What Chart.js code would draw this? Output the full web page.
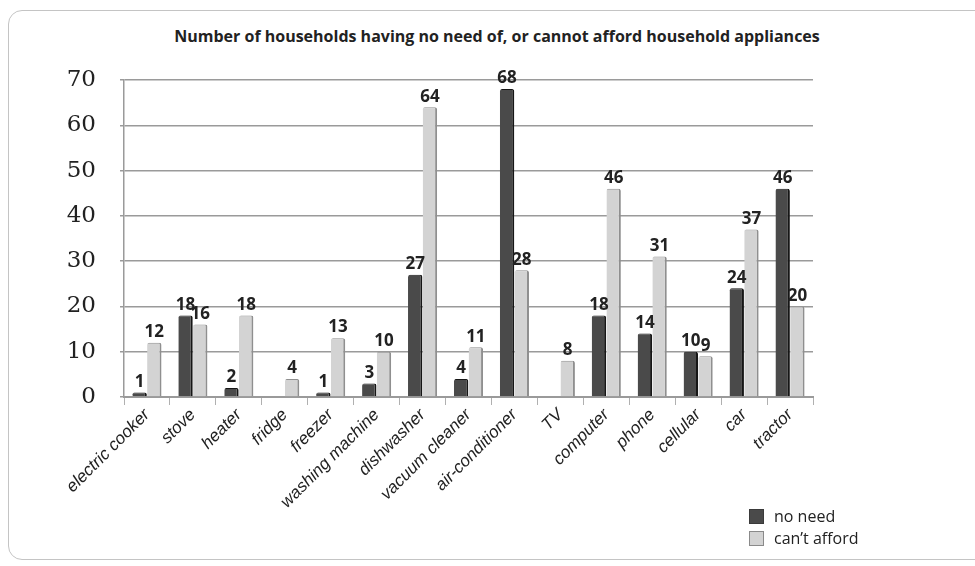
<!DOCTYPE html>
<html>
<head>
<meta charset="utf-8">
<script src="https://cdn.jsdelivr.net/npm/chart.js@4.4.1/dist/chart.umd.min.js"></script>
<style>
  html, body { margin: 0; padding: 0; background: #fff; overflow: hidden; }
  body { width: 975px; height: 566px; position: relative; }
  .card {
    position: absolute; left: 8px; top: 10px; width: 1000px; height: 550px;
    border: 1px solid #c4c4c4; border-radius: 14px; box-sizing: border-box;
  }
  #title {
    position: absolute; left: 0; width: 994px; top: 25px; text-align: center;
    font: bold 16px "Open Sans", sans-serif; color: #222;
  }
  #chart { position: absolute; left: 0; top: 0; }
  #legend {
    position: absolute; left: 749px; top: 505px;
    font: 16px "Open Sans", sans-serif; color: #222;
  }
  #legend div { height: 22px; display: flex; align-items: center; }
  #legend span.box { width: 15px; height: 15px; box-sizing: border-box; margin-right: 10px; border: 1px solid; }
</style>
</head>
<body>
<div class="card"></div>
<div id="title">Number of households having no need of, or cannot afford household appliances</div>
<canvas id="chart" width="975" height="566"></canvas>
<div id="legend"></div>
<script>
// data
const categories = ['electric cooker', 'stove', 'heater', 'fridge', 'freezer', 'washing machine',
    'dishwasher', 'vacuum cleaner', 'air-conditioner', 'TV', 'computer', 'phone', 'cellular', 'car', 'tractor'];
const noNeed     = [1, 18, 2, null, 1, 3, 27, 4, 68, null, 18, 14, 10, 24, 46];
const cantAfford = [12, 16, 18, 4, 13, 10, 64, 11, 28, 8, 46, 31, 9, 37, 20];
const yTicks     = [0, 10, 20, 30, 40, 50, 60, 70];

const seriesNames = ['no need', 'can\u2019t afford'];
const fills   = ['#4a4a4a', '#d3d3d3'];
const edges   = ['#161616', '#8f8f8f'];

// value labels on top of bars
const valueLabels = {
    id: 'valueLabels',
    afterDatasetsDraw(chart) {
        const ctx = chart.ctx;
        ctx.save();
        ctx.font = 'bold 17px "Open Sans", sans-serif';
        ctx.fillStyle = '#222';
        ctx.textAlign = 'center';
        ctx.textBaseline = 'bottom';
        chart.data.datasets.forEach((ds, di) => {
            const meta = chart.getDatasetMeta(di);
            meta.data.forEach((bar, i) => {
                const v = ds.data[i];
                if (v === null || v === undefined) return;
                ctx.fillText(String(v), bar.x, bar.y - 2);
            });
        });
        ctx.restore();
    }
};

new Chart(document.getElementById('chart'), {
    type: 'bar',
    data: {
        labels: categories,
        datasets: [noNeed, cantAfford].map((d, i) => ({
            label: seriesNames[i],
            data: d,
            backgroundColor: fills[i],
            borderColor: edges[i],
            borderWidth: { top: 1, right: 2, left: 0, bottom: 0 },
            borderSkipped: 'bottom',
            borderRadius: { topLeft: 2, topRight: 2 },
            categoryPercentage: 0.64,
            barPercentage: 0.98
        }))
    },
    options: {
        responsive: false,
        animation: false,
        layout: { padding: { top: 80, right: 162, left: 0, bottom: 0 } },
        plugins: {
            legend: { display: false },
            title: { display: false },
            tooltip: { enabled: false }
        },
        scales: {
            y: {
                min: 0,
                max: 70,
                afterBuildTicks: scale => { scale.ticks = yTicks.map(v => ({ value: v })); },
                afterFit: scale => { scale.width = 124; },
                border: { display: true, color: '#9a9a9a', width: 1.5 },
                grid: { color: '#9a9a9a', lineWidth: 1.5, drawTicks: true, tickLength: 4 },
                ticks: {
                    padding: 24,
                    color: '#222',
                    font: { family: '"DejaVu Serif", serif', size: 23 }
                }
            },
            x: {
                afterFit: scale => { scale.height = 169; },
                border: { display: true, color: '#9a9a9a', width: 2 },
                grid: { display: true, drawOnChartArea: false, offset: true, color: '#b0b0b0', tickLength: 8 },
                ticks: {
                    autoSkip: false,
                    minRotation: 45,
                    maxRotation: 45,
                    padding: 0,
                    color: '#222',
                    font: { family: '"Liberation Sans", Arial, sans-serif', size: 17, style: 'italic' }
                }
            }
        }
    },
    plugins: [valueLabels]
});

// legend
const legend = document.getElementById('legend');
seriesNames.forEach((name, i) => {
    const row = document.createElement('div');
    const box = document.createElement('span');
    box.className = 'box';
    box.style.background = fills[i];
    box.style.borderColor = i === 0 ? '#3a3a3a' : '#8a8a8a';
    row.appendChild(box);
    row.appendChild(document.createTextNode(name));
    legend.appendChild(row);
});
</script>
</body>
</html>
